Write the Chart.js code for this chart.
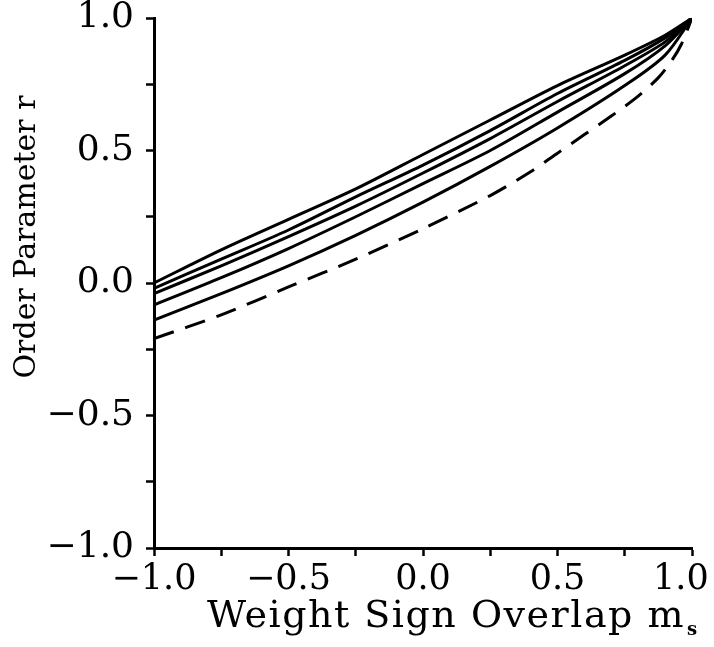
<!DOCTYPE html>
<html>
<head>
<meta charset="utf-8">
<script src="https://cdn.jsdelivr.net/npm/chart.js@4.4.1/dist/chart.umd.min.js"></script>
<style>
  html, body { margin: 0; padding: 0; background: #fff; }
  #wrap { width: 714px; height: 647px; }
</style>
</head>
<body>
<div id="wrap"><canvas id="c" width="714" height="647"></canvas></div>
<script>
// values
const msSolid = [-1, -0.75, -0.5, -0.25, 0, 0.25, 0.5, 0.75, 0.9, 1];
const r1 = [0.0, 0.125, 0.24, 0.355, 0.485, 0.615, 0.745, 0.86, 0.935, 1];
const r2 = [-0.02, 0.09, 0.20, 0.325, 0.445, 0.575, 0.715, 0.84, 0.925, 1];
const r3 = [-0.04, 0.065, 0.175, 0.29, 0.415, 0.545, 0.685, 0.82, 0.91, 1];
const r4 = [-0.083, 0.02, 0.13, 0.25, 0.375, 0.50, 0.645, 0.79, 0.895, 1];
const r5 = [-0.14, -0.04, 0.065, 0.18, 0.305, 0.44, 0.585, 0.745, 0.86, 1];
const msDash = [-1, -0.75, -0.5, -0.25, 0, 0.25, 0.4, 0.5, 0.6, 0.7, 0.8, 0.875, 0.925, 0.96, 1];
const rDash = [-0.21, -0.12, -0.015, 0.09, 0.205, 0.33, 0.42, 0.49, 0.56, 0.63, 0.705, 0.775, 0.84, 0.9, 1];

const X_TITLE = "Weight Sign Overlap m";
const X_SUB = "s";
const Y_TITLE = "Order Parameter r";

const FONT = '"DejaVu Serif", "Liberation Serif", serif';
const pts = (xs, ys) => xs.map((x, i) => ({ x, y: ys[i] }));
const fmtTick = (v) => {
  if (Math.abs(v * 2 - Math.round(v * 2)) > 1e-6) return "";
  const s = Math.abs(v).toFixed(1);
  return v < -1e-9 ? "\u2212" + s : s;
};

const solid = (ys) => ({
  data: pts(msSolid, ys), borderColor: "#000", borderWidth: 3,
  pointRadius: 0, tension: 0.3, fill: false
});

const titles = {
  id: "titles",
  afterDraw(chart) {
    const ctx = chart.ctx;
    ctx.save();
    ctx.fillStyle = "#000";
    ctx.textBaseline = "alphabetic";
    ctx.textAlign = "left";
    ctx.font = "38px " + FONT;
    const w0 = ctx.measureText(X_TITLE).width;
    const sp = Math.max(0, (478 - w0) / X_TITLE.length);
    ctx.letterSpacing = sp.toFixed(2) + "px";
    ctx.fillText(X_TITLE, 207, 627);
    const w = ctx.measureText(X_TITLE).width;
    ctx.letterSpacing = "0px";
    ctx.font = "bold 18px " + FONT;
    ctx.fillText(X_SUB, 207 + w + 2, 635);
    ctx.translate(35, 237);
    ctx.rotate(-Math.PI / 2);
    ctx.textAlign = "center";
    ctx.font = "30px " + FONT;
    ctx.fillText(Y_TITLE, 0, 0);
    ctx.restore();
  }
};

const axisStyle = {
  grid: { display: true, drawOnChartArea: false, drawTicks: true, tickLength: 8, tickWidth: 2.5, color: "#000" },
  border: { display: true, width: 3, color: "#000" }
};

new Chart(document.getElementById("c"), {
  type: "line",
  data: {
    datasets: [
      solid(r1), solid(r2), solid(r3), solid(r4), solid(r5),
      { data: pts(msDash, rDash), borderColor: "#000", borderWidth: 3, borderDash: [21, 12],
        pointRadius: 0, tension: 0.3, fill: false }
    ]
  },
  options: {
    responsive: false, animation: false,
    layout: { padding: { top: 18, right: 22, left: 0, bottom: 0 } },
    plugins: { legend: { display: false }, tooltip: { enabled: false } },
    scales: {
      x: {
        type: "linear", min: -1, max: 1, ...axisStyle,
        ticks: { stepSize: 0.25, autoSkip: false, maxRotation: 0, padding: 3, color: "#000",
                 font: { family: FONT, size: 35 },
                 // last label sits a little left of its tick, as in the original
                 callback: (v) => (v >= 1 - 1e-9 ? fmtTick(v) + "\u2007" : fmtTick(v)) },
        afterFit: (s) => { s.height = 99; s.paddingLeft = 0; s.paddingRight = 0; }
      },
      y: {
        type: "linear", min: -1, max: 1, ...axisStyle,
        ticks: { stepSize: 0.25, autoSkip: false, padding: 12, color: "#000",
                 font: { family: FONT, size: 36 }, callback: fmtTick },
        afterFit: (s) => { s.width = 154; s.paddingTop = 0; s.paddingBottom = 0; }
      }
    }
  },
  plugins: [titles]
});
</script>
</body>
</html>
